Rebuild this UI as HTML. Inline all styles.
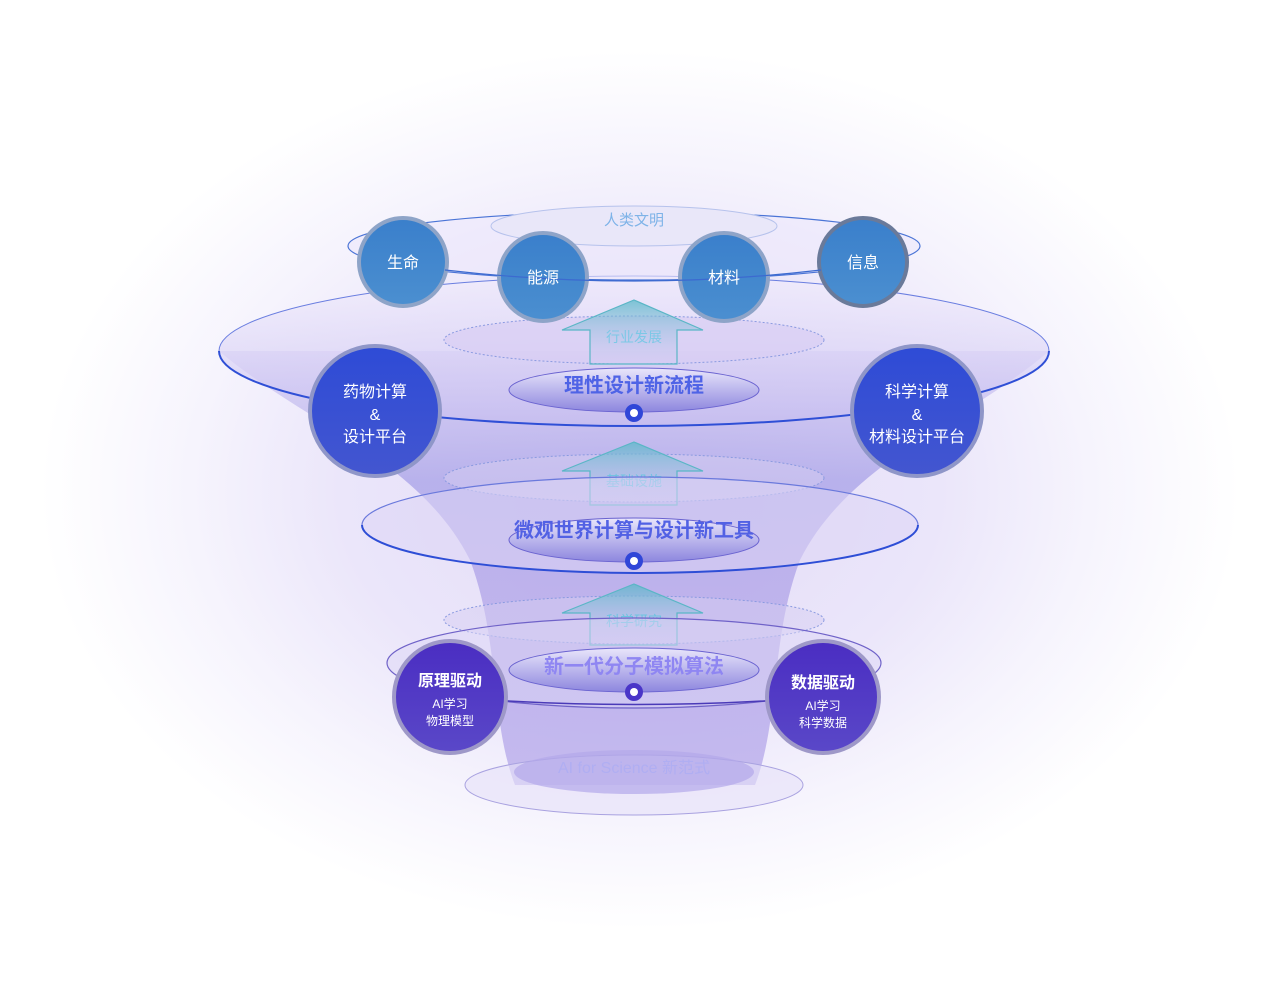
<!DOCTYPE html>
<html><head><meta charset="utf-8"><style>
html,body{margin:0;padding:0;background:#fff;}
svg{display:block;}
text{font-family:"Liberation Sans","Noto Sans CJK SC",sans-serif;}
</style></head><body>
<svg width="1278" height="986" viewBox="0 0 1278 986" xmlns="http://www.w3.org/2000/svg">
<defs>
<radialGradient id="bg" cx="0.5" cy="0.5" r="0.5">
<stop offset="0" stop-color="#e3dbf7"/>
<stop offset="0.5" stop-color="#ebe6fa"/>
<stop offset="0.75" stop-color="#f6f4fd"/>
<stop offset="1" stop-color="#ffffff"/>
</radialGradient>
<linearGradient id="funnel" x1="0" y1="0" x2="0" y2="1">
<stop offset="0" stop-color="#c9bff0" stop-opacity="0.5"/>
<stop offset="0.3" stop-color="#a39ce6" stop-opacity="0.7"/>
<stop offset="0.6" stop-color="#a99ae6" stop-opacity="0.65"/>
<stop offset="1" stop-color="#b5a8ea" stop-opacity="0.75"/>
</linearGradient>
<linearGradient id="bigEl" x1="0" y1="0" x2="0" y2="1">
<stop offset="0" stop-color="#f1ecfc" stop-opacity="0.6"/>
<stop offset="1" stop-color="#c6bdf0" stop-opacity="0.7"/>
</linearGradient>
<linearGradient id="inner" x1="0" y1="0" x2="0" y2="1">
<stop offset="0" stop-color="#e9e6fb"/>
<stop offset="1" stop-color="#8d86de"/>
</linearGradient>
<linearGradient id="arrow" x1="0" y1="0" x2="0" y2="1">
<stop offset="0" stop-color="#58b8c8" stop-opacity="0.75"/>
<stop offset="1" stop-color="#c9c4f0" stop-opacity="0.15"/>
</linearGradient>
<linearGradient id="topC" x1="0" y1="0" x2="0" y2="1">
<stop offset="0" stop-color="#3a7fcb"/>
<stop offset="1" stop-color="#4b8fd0"/>
</linearGradient>
<linearGradient id="midC" x1="0" y1="0" x2="0" y2="1">
<stop offset="0" stop-color="#2e4bd6"/>
<stop offset="1" stop-color="#4356d0"/>
</linearGradient>
<linearGradient id="lowC" x1="0" y1="0" x2="0" y2="1">
<stop offset="0" stop-color="#4a2dc2"/>
<stop offset="1" stop-color="#5a48c8"/>
</linearGradient>
</defs>
<rect width="1278" height="986" fill="#fff"/>
<ellipse cx="640" cy="490" rx="600" ry="440" fill="url(#bg)"/>

<!-- funnel body -->
<path d="M219,351 C300,420 420,460 470,560 C500,640 490,720 515,785 L755,785 C780,720 770,640 800,560 C850,460 970,420 1049,351 Z" fill="url(#funnel)"/>
<ellipse cx="634" cy="351" rx="415" ry="75" fill="url(#bigEl)" stroke="#6a7ee0" stroke-width="1"/>
<path d="M219,351 A415,75 0 0 0 1049,351" fill="none" stroke="#2f4fd6" stroke-width="2"/>

<!-- top ring -->
<ellipse cx="634" cy="246" rx="286" ry="34" fill="#ece8fb" fill-opacity="0.6" stroke="#4a74d6" stroke-width="1.2"/>
<ellipse cx="634" cy="226" rx="143" ry="20" fill="#e9e7f9" stroke="#b6c2ec" stroke-width="1"/>
<text x="634" y="225" font-size="15" fill="#7eb3e8" text-anchor="middle">人类文明</text>

<!-- 行业发展 -->
<ellipse cx="634" cy="340" rx="190" ry="24" fill="#d9cdf3" fill-opacity="0.7" stroke="#8a9ae0" stroke-dasharray="2 2"/>
<path d="M634,300 L703,330 L677,330 L677,364 L590,364 L590,330 L562,330 Z" fill="url(#arrow)" stroke="#5ab6c6" stroke-width="1.2"/>
<text x="634" y="342" font-size="14" fill="#7cc8e6" text-anchor="middle">行业发展</text>

<!-- top circles -->
<g stroke="#8ea4c8" stroke-width="4">
<circle cx="403" cy="262" r="44" fill="url(#topC)"/>
<circle cx="543" cy="277" r="44" fill="url(#topC)"/>
<circle cx="724" cy="277" r="44" fill="url(#topC)"/>
<circle cx="863" cy="262" r="44" fill="url(#topC)" stroke="#6a7a9a"/>
</g>
<path d="M445,270 Q634,292 821,270" fill="none" stroke="#3c6ad0" stroke-width="1.2"/>
<g font-size="16" fill="#fff" text-anchor="middle">
<text x="403" y="268">生命</text><text x="543" y="283">能源</text><text x="724" y="283">材料</text><text x="863" y="268">信息</text>
</g>

<!-- level 2 -->
<ellipse cx="634" cy="390" rx="125" ry="22" fill="url(#inner)" stroke="#6a63d0" stroke-width="1"/>
<text x="634" y="392" font-size="20" font-weight="bold" fill="#4f63e6" text-anchor="middle">理性设计新流程</text>
<circle cx="634" cy="413" r="9" fill="#3046d8"/><circle cx="634" cy="413" r="4" fill="#fff"/>

<!-- 基础设施 -->
<ellipse cx="634" cy="478" rx="190" ry="24" fill="#d5cdf2" fill-opacity="0.5" stroke="#8a9ae0" stroke-dasharray="2 2"/>
<path d="M634,442 L703,471 L677,471 L677,505 L590,505 L590,471 L562,471 Z" fill="url(#arrow)" stroke="#5ab6c6" stroke-width="1.2"/>
<text x="634" y="486" font-size="14" fill="#6cc4e0" text-anchor="middle">基础设施</text>

<g stroke="#8f96c8" stroke-width="4">
<circle cx="375" cy="411" r="65" fill="url(#midC)"/>
<circle cx="917" cy="411" r="65" fill="url(#midC)"/>
</g>
<g font-size="16" fill="#fff" text-anchor="middle">
<text x="375" y="397">药物计算</text><text x="375" y="420">&amp;</text><text x="375" y="442">设计平台</text>
<text x="917" y="397">科学计算</text><text x="917" y="420">&amp;</text><text x="917" y="442">材料设计平台</text>
</g>

<!-- level 3 -->
<ellipse cx="640" cy="525" rx="278" ry="48" fill="#ddd6f6" fill-opacity="0.55" stroke="#6a79dc" stroke-width="1.2"/>
<path d="M362,525 A278,48 0 0 0 918,525" fill="none" stroke="#2e4ed6" stroke-width="2"/>
<ellipse cx="634" cy="540" rx="125" ry="22" fill="url(#inner)" stroke="#6a63d0" stroke-width="1"/>
<text x="634" y="537" font-size="20" font-weight="bold" fill="#5261e4" text-anchor="middle">微观世界计算与设计新工具</text>
<circle cx="634" cy="561" r="9" fill="#3046d8"/><circle cx="634" cy="561" r="4" fill="#fff"/>

<!-- 科学研究 -->
<ellipse cx="634" cy="620" rx="190" ry="24" fill="#d5cdf2" fill-opacity="0.5" stroke="#8a9ae0" stroke-dasharray="2 2"/>
<path d="M634,584 L703,613 L677,613 L677,645 L590,645 L590,613 L562,613 Z" fill="url(#arrow)" stroke="#5ab6c6" stroke-width="1.2"/>
<text x="634" y="626" font-size="14" fill="#6cc4e0" text-anchor="middle">科学研究</text>

<!-- level 4 -->
<ellipse cx="634" cy="663" rx="247" ry="45" fill="#dcd6f6" fill-opacity="0.5" stroke="#6f62c8" stroke-width="1.2"/>
<ellipse cx="634" cy="670" rx="125" ry="22" fill="url(#inner)" stroke="#6a63d0" stroke-width="1"/>
<text x="634" y="673" font-size="20" font-weight="bold" fill="#8f86f2" text-anchor="middle">新一代分子模拟算法</text>
<path d="M450,697 Q634,712 823,697" fill="none" stroke="#4a3ab8" stroke-width="1.5"/>
<circle cx="634" cy="692" r="9" fill="#4a35c8"/><circle cx="634" cy="692" r="4" fill="#fff"/>

<g stroke="#9e98c8" stroke-width="4">
<circle cx="450" cy="697" r="56" fill="url(#lowC)"/>
<circle cx="823" cy="697" r="56" fill="url(#lowC)"/>
</g>
<g fill="#fff" text-anchor="middle">
<text x="450" y="686" font-size="16" font-weight="bold">原理驱动</text>
<text x="450" y="708" font-size="12">AI学习</text><text x="450" y="725" font-size="12">物理模型</text>
<text x="823" y="688" font-size="16" font-weight="bold">数据驱动</text>
<text x="823" y="710" font-size="12">AI学习</text><text x="823" y="727" font-size="12">科学数据</text>
</g>

<!-- bottom -->
<ellipse cx="634" cy="785" rx="169" ry="30" fill="#e6e1f8" fill-opacity="0.6" stroke="#a9a2e0" stroke-width="1"/>
<ellipse cx="634" cy="772" rx="120" ry="22" fill="#b3a8ea" fill-opacity="0.7"/>
<text x="634" y="773" font-size="16" fill="#b0aef2" text-anchor="middle">AI for Science 新范式</text>
</svg>
</body></html>
